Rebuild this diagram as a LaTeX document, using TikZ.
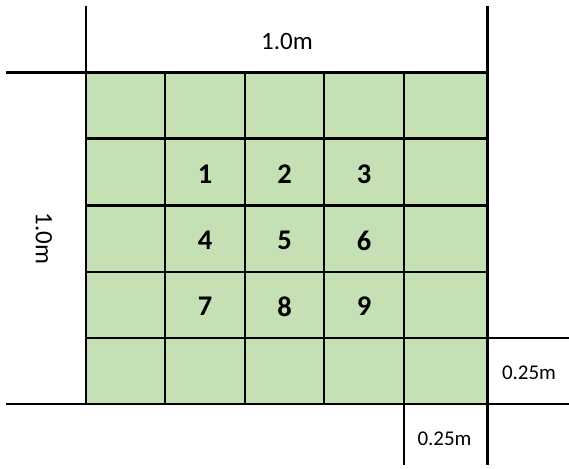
\documentclass[tikz,border=0pt]{standalone}
\usepackage{fontspec}
\setmainfont{Carlito}
\usepackage{tikz}
\definecolor{cellgreen}{RGB}{197,224,180}
\tikzset{
  gridline/.style={black, line width=2.2pt},
  cellnum/.style={font=\fontsize{28.5}{32}\selectfont\bfseries, inner sep=0pt},
  dimlabel/.style={font=\fontsize{25}{29}\selectfont, inner sep=0pt},
  smalllabel/.style={font=\fontsize{21}{24}\selectfont, inner sep=0pt},
}

\begin{document}
\begin{tikzpicture}[x=1pt,y=-1pt]
  \useasboundingbox (0,0) rectangle (569,468);
  % green field
  \fill[cellgreen] (86,72.5) rectangle (487.5,404);
  % grid
  \foreach \x in {165,245,324,404}
    \draw[gridline] (\x,72.5) -- (\x,404);
  \foreach \y in {138.5,205.5,272,338}
    \draw[gridline] (86,\y) -- (487.5,\y);
  % outer lines
  \draw[gridline] (6,72.5) -- (487.5,72.5);
  \draw[gridline] (86,6) -- (86,404);
  \draw[gridline] (487.5,6) -- (487.5,465);
  \draw[gridline] (6,404) -- (569,404);
  \draw[gridline] (487.5,338) -- (569,338);
  \draw[gridline] (404,404) -- (404,465);
  % numbers
  \foreach \r in {0,1,2} {
    \foreach \c in {0,1,2} {
      \pgfmathtruncatemacro\k{3*\r+\c+1}
      \node[cellnum] (n\k) at (205+79.5*\c, 174.5+66*\r) {\k};
    }
  }
  % dimensions
  \node[dimlabel] (topdim) at (287,41.5) {1.0m};
  \node[dimlabel, rotate=-90] (leftdim) at (44,238.5) {1.0m};
  \node[smalllabel] (rightdim) at (529,372.5) {0.25m};
  \node[smalllabel] (bottomdim) at (444.5,438.8) {0.25m};
\end{tikzpicture}
\end{document}
